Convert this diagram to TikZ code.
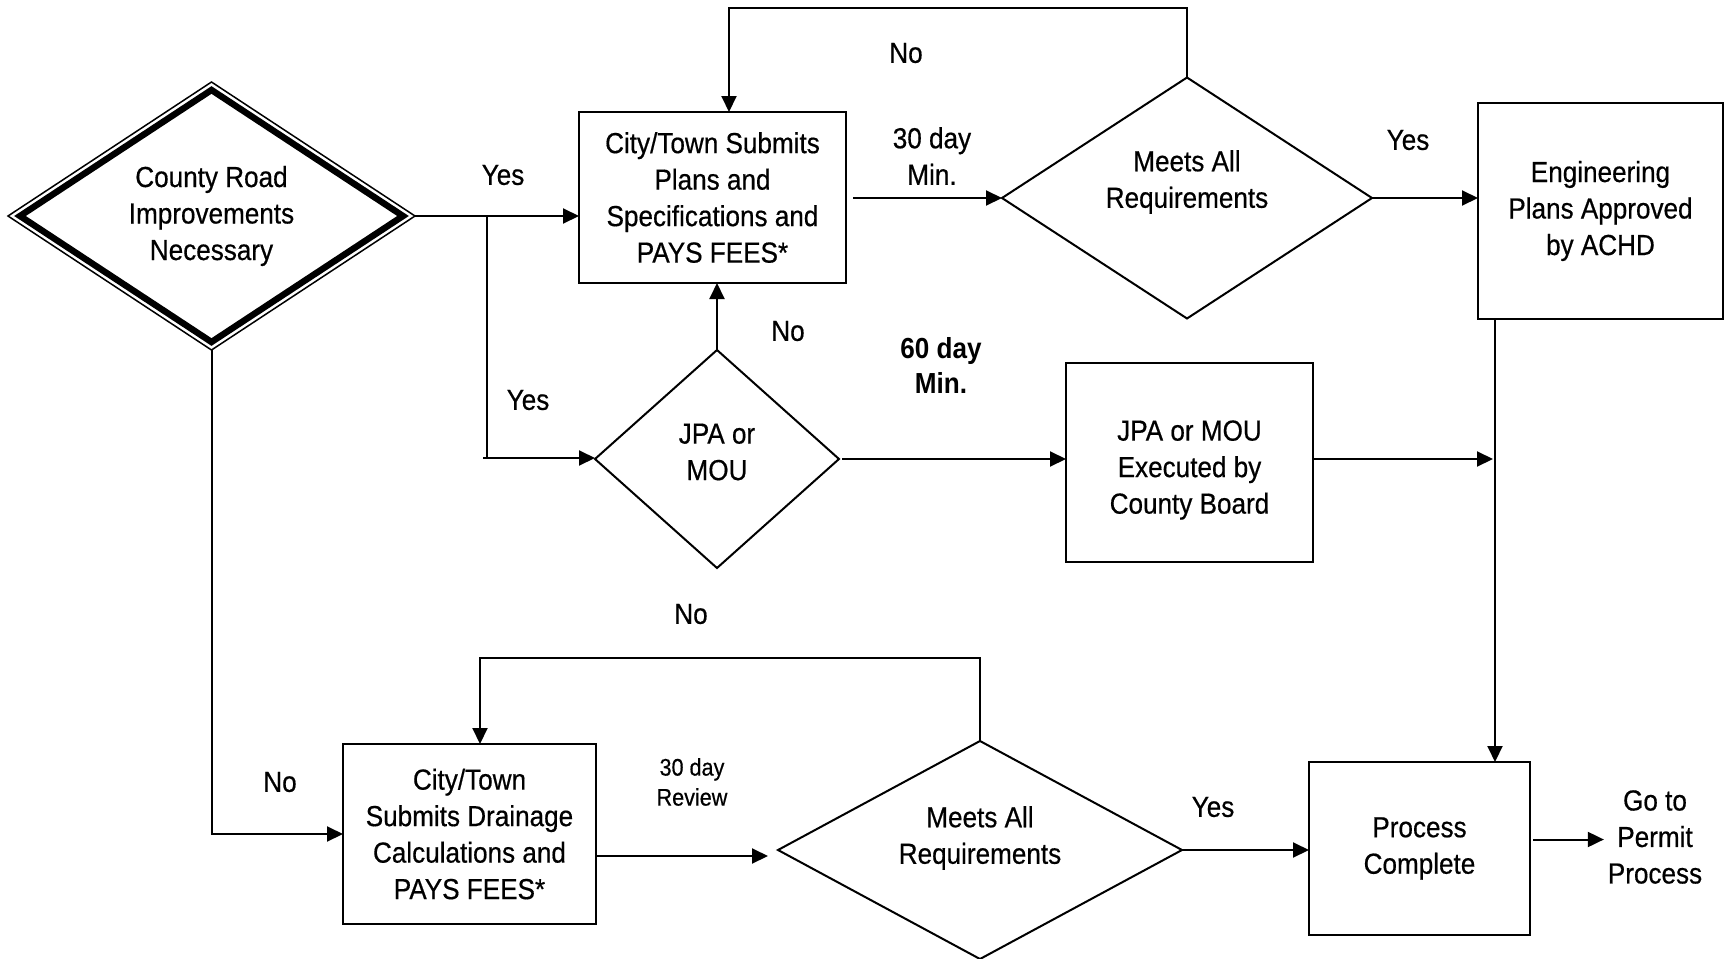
\documentclass[tikz,border=0pt]{standalone}
\usepackage{fontspec}
\setmainfont{Liberation Sans}[FakeStretch=0.9, UprightFeatures={FakeBold=0.5}]
\usetikzlibrary{shapes.geometric,arrows.meta,calc}

\begin{document}
\begin{tikzpicture}[x=0.5pt,y=-0.5pt,
  every node/.style={font=\fontsize{14.5}{18.25}\selectfont, align=center,
    inner sep=0pt, outer sep=0pt},
  box/.style={draw, line width=1pt, rectangle},
  decision/.style={draw, line width=1pt, diamond},
  flow/.style={line width=1pt},
  arr/.style={flow, -{Triangle[length=8pt,width=7.5pt]}},
  small/.style={font=\fontsize{12}{15}\selectfont},
  boldlbl/.style={font=\fontsize{14.5}{17.5}\selectfont\bfseries},
]
\useasboundingbox (0,0) rectangle (1726,959);

% start decision: thin outer outline around a heavy inner outline
\node[draw, diamond, line width=0.75pt, minimum width=203.5pt, minimum height=134pt] (crdO) at (211.5,216) {};
\node[draw, diamond, line width=3.2pt, minimum width=191.5pt, minimum height=126pt] (crd) at (211.5,216) {};
\node (crdT) at (211.5,216) {County Road\\Improvements\\Necessary};

% upper route
\node[box, minimum width=133.5pt, minimum height=85.5pt] (boxA) at (712.5,197.5)
  {City/Town Submits\\Plans and\\Specifications and\\PAYS FEES*};
\node[decision, minimum width=185pt, minimum height=120.5pt] (dB) at (1187,198) {};
\node (dBt) at (1187,182) {Meets All\\Requirements};
\node[box, minimum width=122.5pt, minimum height=108pt] (boxC) at (1600.5,211)
  {Engineering\\Plans Approved\\by ACHD};

% agreement route
\node[decision, minimum width=122pt, minimum height=109pt] (jpa) at (717,459) {};
\node (jpat) at (717,452) {JPA or\\MOU};
\node[box, minimum width=123.5pt, minimum height=99.5pt] (boxD) at (1189.5,462.5) {};
\node (boxDt) at (1189.5,470) {JPA or MOU\\Executed by\\County Board};

% drainage route
\node[box, minimum width=126.5pt, minimum height=90pt] (boxF) at (469.5,834)
  {City/Town\\Submits Drainage\\Calculations and\\PAYS FEES*};
\node[decision, minimum width=202pt, minimum height=109pt] (dE) at (980,850) {};
\node (dEt) at (980,838) {Meets All\\Requirements};
\node[box, minimum width=110.5pt, minimum height=86.5pt] (boxG) at (1419.5,848.5)
  {Process\\Complete};
\node[inner sep=2pt] (goto) at (1655,837) {Go to\\Permit\\Process};

% connectors
\draw[arr] (crdO.east) -- (crdO.east -| boxA.west);
\coordinate (br1) at (487,216);
\coordinate (br2) at (487,458);
\draw[flow] (br1) -- (br2);
\draw[arr] ([xshift=-2pt]br2) -- (br2 -| jpa.west);
\draw[arr] (crdO.south) |- (boxF.west);

\draw[arr] ([xshift=3.5pt]boxA.east |- dB.west) -- (dB.west);
\coordinate (loopA) at (729,8);
\draw[arr] (dB.north) |- (loopA) -- (loopA |- boxA.north);
\draw[arr] (dB.east) -- (dB.east -| boxC.west);

\draw[arr] (jpa.north) -- (jpa.north |- boxA.south);
\draw[arr] ([xshift=1.5pt]jpa.east) -- (jpa.east -| boxD.west);
\coordinate (vC) at ([xshift=8.5pt]boxC.south west);
\draw[arr] (vC) -- (vC |- boxG.north);
\draw[arr] (boxD.east |- jpa.east) -- ([xshift=-1pt]vC |- jpa.east);

\coordinate (loopF) at (480,658);
\draw[arr] (dE.north) |- (loopF) -- (loopF |- boxF.north);
\draw[arr, shorten >=5pt] ([yshift=-11pt]boxF.east) -- ([yshift=-11pt]boxF.east -| dE.west);
\draw[arr] (dE.east) -- (dE.east -| boxG.west);
\draw[arr] ([xshift=1.5pt,yshift=4.5pt]boxG.east) -- ([yshift=4.5pt]boxG.east -| goto.west);

% branch labels
\node (lYes1) at (503,175) {Yes};
\node (lYes2) at (528,400) {Yes};
\node (lNo1) at (280,782) {No};
\node (lNo2) at (906,53) {No};
\node (lNo3) at (788,331) {No};
\node (l30a) at (932,156) {30 day\\Min.};
\node (lYes3) at (1408,140) {Yes};
\node[boldlbl] (l60) at (941,365) {60 day\\Min.};
\node (lNo4) at (691,614) {No};
\node[small] (l30b) at (692,782) {30 day\\Review};
\node (lYes4) at (1213,807) {Yes};
\end{tikzpicture}
\end{document}
